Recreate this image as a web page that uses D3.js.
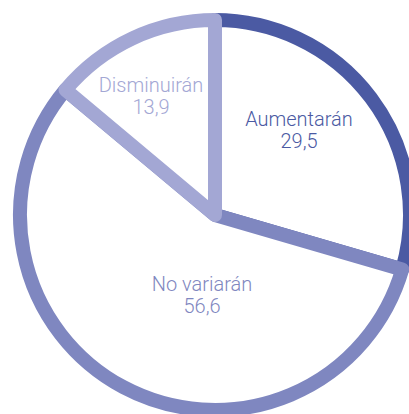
<!DOCTYPE html>
<html lang="es">

<head>
    <meta charset="UTF-8">
    <title>Pie</title>
    <script src="https://d3js.org/d3.v7.min.js"></script>
    <style>
        body {
            margin: 0;
            background: #fff;
        }

        svg {
            display: block;
        }

        path.slice {
            fill: #fff;
            stroke-width: 14px;
            stroke-linejoin: round;
        }

        text {
            font-family: Roboto, "Liberation Sans", sans-serif;
            font-weight: 300;
            font-size: 20px;
            text-anchor: middle;
        }
    </style>
</head>

<body>
    <svg width="409" height="414"></svg>
    <script>
        var categories = ["Aumentarán", "No variarán", "Disminuirán"];
        var values = [29.5, 56.6, 13.9];
        var valueLabels = ["29,5", "56,6", "13,9"];
        var colors = ["#4b5aa3", "#7f87c0", "#a3a7d4"];

        // label offsets from the pie centre (first line baseline)
        var labelDx = [84, -13, -64];
        var labelDy = [-89, 76, -123];

        var cx = 215, cy = 215, radius = 195;

        var svg = d3.select("svg");
        var g = svg.append("g").attr("transform", "translate(" + cx + "," + cy + ")");

        var pie = d3.pie().sort(null).value(d => d);
        var arc = d3.arc().innerRadius(0).outerRadius(radius);
        var slices = pie(values);

        g.selectAll("path.slice")
            .data(slices)
            .enter()
            .append("path")
            .attr("class", "slice")
            .attr("d", arc)
            .style("stroke", (d, i) => colors[i]);

        var labels = g.selectAll("text")
            .data(slices)
            .enter()
            .append("text")
            .attr("x", (d, i) => labelDx[i])
            .attr("y", (d, i) => labelDy[i])
            .style("fill", (d, i) => colors[i]);

        labels.append("tspan")
            .attr("x", (d, i) => labelDx[i])
            .text((d, i) => categories[i]);
        labels.append("tspan")
            .attr("x", (d, i) => labelDx[i])
            .attr("dy", 21.5)
            .text((d, i) => valueLabels[i]);
    </script>
</body>

</html>
